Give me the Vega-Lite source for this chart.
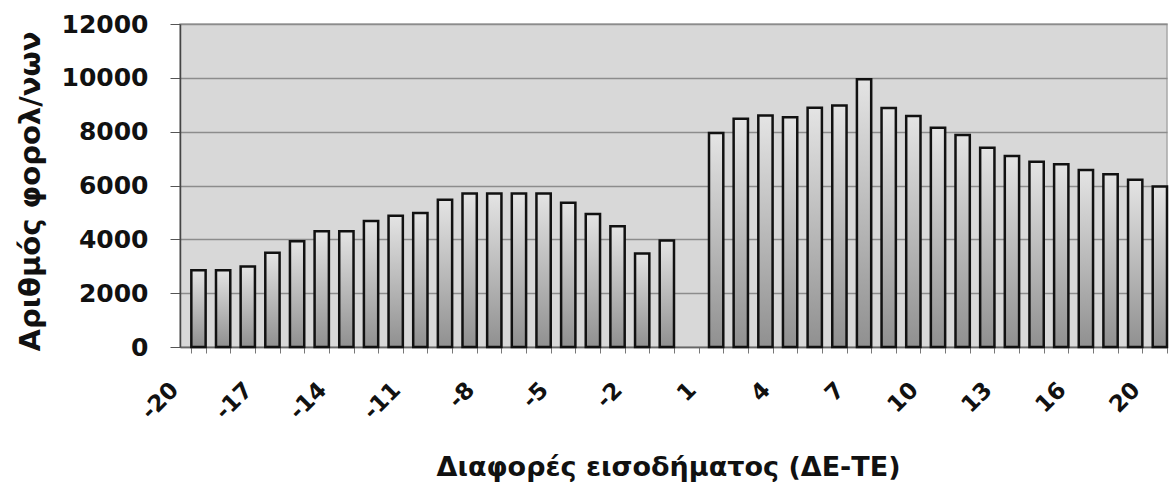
{
  "$schema": "https://vega.github.io/schema/vega-lite/v6.json",
  "width": 987,
  "height": 323,
  "autosize": {"type": "none"},
  "padding": {"left": 180, "top": 24, "right": 5, "bottom": 143},
  "background": "white",
  "config": {
    "font": "DejaVu Sans",
    "view": {"fill": "#d8d8d8", "stroke": "#a8a8a8", "strokeWidth": 1.5}
  },
  "data": {
    "values": [
      {"d": "-20", "v": 2850}, {"d": "-19", "v": 2850}, {"d": "-18", "v": 2990},
      {"d": "-17", "v": 3500}, {"d": "-16", "v": 3930}, {"d": "-15", "v": 4300},
      {"d": "-14", "v": 4300}, {"d": "-13", "v": 4680}, {"d": "-12", "v": 4880},
      {"d": "-11", "v": 4980}, {"d": "-10", "v": 5470}, {"d": "-9", "v": 5700},
      {"d": "-8", "v": 5700}, {"d": "-7", "v": 5700}, {"d": "-6", "v": 5700},
      {"d": "-5", "v": 5360}, {"d": "-4", "v": 4940}, {"d": "-3", "v": 4490},
      {"d": "-2", "v": 3470}, {"d": "-1", "v": 3960},
      {"d": "1", "v": 7950}, {"d": "2", "v": 8480}, {"d": "3", "v": 8600},
      {"d": "4", "v": 8540}, {"d": "5", "v": 8890}, {"d": "6", "v": 8970},
      {"d": "7", "v": 9950}, {"d": "8", "v": 8880}, {"d": "9", "v": 8580},
      {"d": "10", "v": 8150}, {"d": "11", "v": 7880}, {"d": "12", "v": 7400},
      {"d": "13", "v": 7100}, {"d": "14", "v": 6880}, {"d": "15", "v": 6790},
      {"d": "16", "v": 6580}, {"d": "17", "v": 6420}, {"d": "18", "v": 6210},
      {"d": "20", "v": 5960}
    ]
  },
  "mark": {
    "type": "bar",
    "stroke": "#111111",
    "strokeWidth": 2.5,
    "color": {
      "gradient": "linear",
      "x1": 0, "y1": 0, "x2": 0, "y2": 1,
      "stops": [
        {"offset": 0, "color": "#e4e4e4"},
        {"offset": 1, "color": "#909090"}
      ]
    }
  },
  "encoding": {
    "x": {
      "field": "d",
      "type": "ordinal",
      "sort": null,
      "scale": {
        "domain": ["-20","-19","-18","-17","-16","-15","-14","-13","-12","-11","-10","-9","-8","-7","-6","-5","-4","-3","-2","-1","0","1","2","3","4","5","6","7","8","9","10","11","12","13","14","15","16","17","18","20"],
        "paddingInner": 0.42,
        "paddingOuter": 0.23,
        "align": 1
      },
      "axis": {
        "labelExpr": "indexof(['-20','-17','-14','-11','-8','-5','-2','1','4','7','10','13','16','20'], datum.value) >= 0 ? datum.value : ''",
        "labelOverlap": false,
        "labelAngle": -45,
        "labelAlign": "right",
        "labelBaseline": "middle",
        "labelOffset": -24,
        "labelPadding": 33,
        "labelFontSize": 23,
        "labelFontWeight": "bold",
        "labelColor": "#111111",
        "tickSize": 6,
        "tickColor": "#777777",
        "tickBand": "extent",
        "domainColor": "#666666",
        "domainWidth": 1.5,
        "grid": false,
        "title": "Διαφορές εισοδήματος (ΔΕ-ΤΕ)",
        "titleFontSize": 27,
        "titleFontWeight": "bold",
        "titleColor": "#111111",
        "titleBaseline": "middle",
        "titleX": 488,
        "titleY": 120
      }
    },
    "y": {
      "field": "v",
      "type": "quantitative",
      "scale": {"domain": [0, 12000]},
      "axis": {
        "values": [0, 2000, 4000, 6000, 8000, 10000, 12000],
        "format": "d",
        "grid": true,
        "gridColor": "#8c8c8c",
        "gridWidth": 1.5,
        "tickSize": 10,
        "tickColor": "#555555",
        "domainColor": "#444444",
        "domainWidth": 1.5,
        "labelPadding": 22,
        "labelFontSize": 25,
        "labelFontWeight": "bold",
        "labelColor": "#111111",
        "title": "Αριθμός φορολ/νων",
        "titleFontSize": 29,
        "titleFontWeight": "bold",
        "titleColor": "#111111",
        "titleBaseline": "middle",
        "titleX": -150,
        "titleY": 167
      }
    }
  }
}
